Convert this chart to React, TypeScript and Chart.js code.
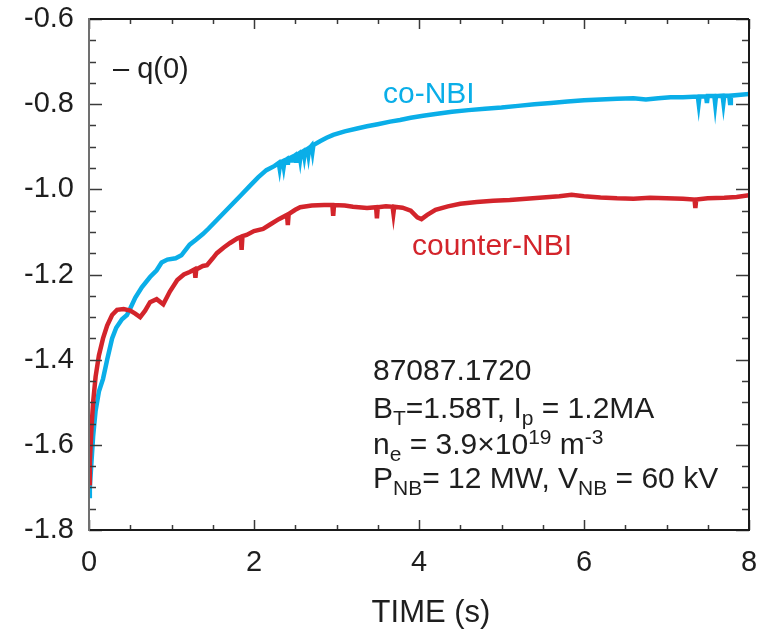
import React, { useEffect, useRef } from "react";
import { Chart, registerables } from "chart.js";

Chart.register(...registerables);

// ---- data ----
const CO_T = [
  0.0, 0.01, 0.03, 0.05, 0.08, 0.12, 0.17, 0.22, 0.28, 0.33, 0.4, 0.46, 0.5, 0.56, 0.64, 0.74, 0.82, 0.88, 0.95,
  1.05, 1.12, 1.22, 1.3, 1.38, 1.45, 1.55, 1.65, 1.75, 1.85, 1.95, 2.05, 2.15, 2.25, 2.3, 2.31, 2.32, 2.35, 2.36,
  2.37, 2.4, 2.41, 2.42, 2.45, 2.46, 2.47, 2.5, 2.51, 2.52, 2.55, 2.56, 2.57, 2.6, 2.61, 2.62, 2.65, 2.66, 2.67,
  2.7, 2.71, 2.72, 2.8, 2.88, 2.96, 3.1, 3.25, 3.37, 3.5, 3.65, 3.77, 3.9, 4.05, 4.2, 4.4, 4.6, 4.8, 5.0, 5.2,
  5.4, 5.6, 5.8, 6.0, 6.2, 6.4, 6.6, 6.75, 6.9, 7.05, 7.2, 7.38, 7.39, 7.4, 7.48, 7.49, 7.5, 7.58, 7.59, 7.6,
  7.68, 7.69, 7.7, 7.76, 7.77, 7.78, 7.9, 8.0,
];
const CO_Q = [
  -1.72, -1.7, -1.64, -1.58, -1.52, -1.475, -1.445, -1.4, -1.35, -1.325, -1.305, -1.295, -1.28, -1.255, -1.23,
  -1.206, -1.19, -1.172, -1.165, -1.162, -1.155, -1.13, -1.118, -1.105, -1.092, -1.072, -1.052, -1.032, -1.012,
  -0.992, -0.972, -0.955, -0.945, -0.938, -0.95, -0.937, -0.934, -0.946, -0.933, -0.929, -0.942, -0.928, -0.925,
  -0.937, -0.924, -0.92, -0.933, -0.919, -0.915, -0.928, -0.914, -0.91, -0.922, -0.909, -0.905, -0.918, -0.904,
  -0.897, -0.91, -0.896, -0.887, -0.879, -0.872, -0.864, -0.857, -0.852, -0.847, -0.841, -0.837, -0.832, -0.827,
  -0.823, -0.818, -0.814, -0.811, -0.808, -0.804, -0.8, -0.797, -0.794, -0.791, -0.789, -0.787, -0.786, -0.789,
  -0.786, -0.784, -0.784, -0.782, -0.798, -0.782, -0.782, -0.797, -0.781, -0.781, -0.799, -0.781, -0.78, -0.796,
  -0.78, -0.78, -0.797, -0.78, -0.778, -0.776,
];

const CTR_T = [
  0.0, 0.01, 0.03, 0.05, 0.08, 0.12, 0.17, 0.22, 0.28, 0.34, 0.42, 0.5, 0.56, 0.62, 0.68, 0.74, 0.82, 0.9, 0.98,
  1.07, 1.15, 1.22, 1.28, 1.29, 1.3, 1.38, 1.43, 1.5, 1.55, 1.63, 1.71, 1.8, 1.84, 1.85, 1.86, 1.91, 2.0, 2.11,
  2.2, 2.3, 2.4, 2.41, 2.42, 2.5, 2.56, 2.7, 2.85, 2.95, 2.96, 2.97, 3.1, 3.2, 3.37, 3.48, 3.49, 3.5, 3.6, 3.68,
  3.69, 3.7, 3.8, 3.9, 3.98, 4.03, 4.1, 4.2, 4.35, 4.5, 4.7, 4.9, 5.1, 5.3, 5.5, 5.7, 5.85, 6.0, 6.2, 6.4, 6.6,
  6.8, 7.0, 7.2, 7.34, 7.35, 7.36, 7.5, 7.7, 7.85, 8.0,
];
const CTR_Q = [
  -1.69, -1.64, -1.56, -1.5, -1.44, -1.39, -1.35, -1.32, -1.295, -1.283, -1.281, -1.285, -1.292, -1.3, -1.285,
  -1.265, -1.258, -1.27, -1.24, -1.213, -1.2, -1.194, -1.188, -1.208, -1.188, -1.18, -1.178, -1.162, -1.15, -1.137,
  -1.126, -1.115, -1.112, -1.142, -1.11, -1.107, -1.098, -1.093, -1.082, -1.07, -1.06, -1.084, -1.058, -1.048,
  -1.042, -1.038, -1.037, -1.037, -1.062, -1.037, -1.038, -1.041, -1.044, -1.042, -1.068, -1.042, -1.04, -1.041,
  -1.056, -1.041, -1.043, -1.05, -1.066, -1.07, -1.06, -1.048, -1.04, -1.034, -1.03, -1.027, -1.025, -1.022,
  -1.019, -1.016, -1.013, -1.016, -1.019, -1.021, -1.022, -1.02, -1.021, -1.022, -1.024, -1.044, -1.024, -1.021,
  -1.02, -1.018, -1.014,
];

const X_TICKS = [0, 2, 4, 6, 8];
const Y_TICKS = [-1.8, -1.6, -1.4, -1.2, -1.0, -0.8, -0.6];
const X_MINOR_STEP = 0.5;
const Y_MINOR_STEP = 0.05;

const X_TITLE = "TIME (s)";
const Y_LABEL = "\u2013 q(0)";
const CO_LABEL = "co-NBI";
const CTR_LABEL = "counter-NBI";

type Seg = { t: string; k?: "sub" | "sup" };
const INFO_LINES: Seg[][] = [
  [{ t: "87087.1720" }],
  [{ t: "B" }, { t: "T", k: "sub" }, { t: "=1.58T, I" }, { t: "p", k: "sub" }, { t: " = 1.2MA" }],
  [{ t: "n" }, { t: "e", k: "sub" }, { t: " = 3.9\u00d710" }, { t: "19", k: "sup" }, { t: " m" }, { t: "-3", k: "sup" }],
  [{ t: "P" }, { t: "NB", k: "sub" }, { t: "= 12 MW, V" }, { t: "NB", k: "sub" }, { t: " = 60 kV" }],
];

const BLUE = "#0aaee8";
const RED = "#d3242b";
const INK = "#1e1e1e";
const FONT = '"Liberation Sans", Arial, Helvetica, sans-serif';

function drawRich(ctx: CanvasRenderingContext2D, x: number, y: number, segs: Seg[], size: number) {
  let cx = x;
  for (const s of segs) {
    const fs = s.k ? Math.round(size * 0.7) : size;
    ctx.font = `${fs}px ${FONT}`;
    const dy = s.k === "sub" ? 7 : s.k === "sup" ? -10 : 0;
    ctx.fillText(s.t, cx, y + dy);
    cx += ctx.measureText(s.t).width;
  }
}

const framePlugin = {
  id: "frameTicks",
  afterDatasetsDraw(chart: any) {
    const { ctx, chartArea: a, scales } = chart;
    const x = scales.x;
    const y = scales.y;
    ctx.save();
    ctx.strokeStyle = "#3a3a3a";
    ctx.lineWidth = 1.5;
    const seg = (x1: number, y1: number, x2: number, y2: number) => {
      ctx.beginPath();
      ctx.moveTo(x1, y1);
      ctx.lineTo(x2, y2);
      ctx.stroke();
    };
    const x0 = X_TICKS[0];
    const x1 = X_TICKS[X_TICKS.length - 1];
    const nx = Math.round((x1 - x0) / X_MINOR_STEP);
    for (let i = 0; i <= nx; i++) {
      const v = x0 + i * X_MINOR_STEP;
      const major = X_TICKS.some((t) => Math.abs(t - v) < 1e-6);
      const len = major ? 10 : 5;
      const px = Math.round(x.getPixelForValue(v)) + 0.5;
      seg(px, a.bottom, px, a.bottom - len);
      seg(px, a.top, px, a.top + len);
    }
    const y0 = Y_TICKS[0];
    const y1 = Y_TICKS[Y_TICKS.length - 1];
    const ny = Math.round((y1 - y0) / Y_MINOR_STEP);
    for (let i = 0; i <= ny; i++) {
      const v = y0 + i * Y_MINOR_STEP;
      const major = Y_TICKS.some((t) => Math.abs(t - v) < 1e-6);
      const len = major ? 13 : 7;
      const py = Math.round(y.getPixelForValue(v)) + 0.5;
      seg(a.left, py, a.left + len, py);
      seg(a.right, py, a.right - len, py);
    }
    // frame
    ctx.lineWidth = 2;
    ctx.strokeStyle = "#1a1a1a";
    seg(a.left, a.top, a.right, a.top);
    seg(a.right, a.top, a.right, a.bottom + 1);
    seg(a.left - 1, a.bottom, a.right + 1, a.bottom);
    ctx.strokeStyle = "#707070";
    seg(a.left, a.top - 1, a.left, a.bottom + 1);
    ctx.restore();
  },
  afterDraw(chart: any) {
    const { ctx, chartArea: a } = chart;
    ctx.save();
    ctx.textBaseline = "alphabetic";
    ctx.textAlign = "left";
    // axis title
    ctx.fillStyle = INK;
    ctx.font = `31px ${FONT}`;
    ctx.textAlign = "center";
    ctx.fillText(X_TITLE, 431, 622);
    ctx.textAlign = "left";
    // y label inside plot
    ctx.font = `29px ${FONT}`;
    ctx.fillText(Y_LABEL, a.left + 24, 78);
    // series labels
    ctx.font = `30px ${FONT}`;
    ctx.fillStyle = BLUE;
    ctx.fillText(CO_LABEL, 383, 103);
    ctx.fillStyle = RED;
    ctx.fillText(CTR_LABEL, 412, 255);
    // info block
    ctx.fillStyle = INK;
    const baselines = [380, 418, 454, 488];
    INFO_LINES.forEach((line, i) => drawRich(ctx, 373, baselines[i], line, 30));
    ctx.restore();
  },
};

export default function App() {
  const ref = useRef<HTMLCanvasElement | null>(null);
  useEffect(() => {
    if (!ref.current) return;
    const chart = new Chart(ref.current, {
      type: "line",
      data: {
        datasets: [
          {
            label: CTR_LABEL,
            data: CTR_T.map((t, i) => ({ x: t, y: CTR_Q[i] })),
            borderColor: RED,
            borderWidth: 4.5,
            pointRadius: 0,
            tension: 0,
            fill: false,
          },
          {
            label: CO_LABEL,
            data: CO_T.map((t, i) => ({ x: t, y: CO_Q[i] })),
            borderColor: BLUE,
            borderWidth: 4.5,
            pointRadius: 0,
            tension: 0,
            fill: false,
          },
        ],
      },
      options: {
        responsive: false,
        animation: false,
        layout: { padding: { top: 19, right: 17, left: 0, bottom: 0 } },
        plugins: { legend: { display: false }, tooltip: { enabled: false } },
        scales: {
          x: {
            type: "linear",
            min: X_TICKS[0],
            max: X_TICKS[X_TICKS.length - 1],
            afterBuildTicks: (s: any) => {
              s.ticks = X_TICKS.map((v) => ({ value: v }));
            },
            afterFit: (s: any) => {
              s.height = 99;
              s.paddingLeft = 0;
              s.paddingRight = 0;
            },
            grid: { display: false, drawTicks: false },
            border: { display: false },
            ticks: {
              padding: 16,
              color: INK,
              font: { size: 29, family: FONT },
              callback: (v: any) => String(v),
            },
          },
          y: {
            type: "linear",
            min: Y_TICKS[0],
            max: Y_TICKS[Y_TICKS.length - 1],
            afterBuildTicks: (s: any) => {
              s.ticks = Y_TICKS.map((v) => ({ value: v }));
            },
            afterFit: (s: any) => {
              s.width = 89;
              s.paddingTop = 0;
              s.paddingBottom = 0;
            },
            grid: { display: false, drawTicks: false },
            border: { display: false },
            ticks: {
              padding: 15,
              color: INK,
              font: { size: 29, family: FONT },
              callback: (v: any) => Number(v).toFixed(1),
            },
          },
        },
      },
      plugins: [framePlugin],
    } as any);
    return () => chart.destroy();
  }, []);
  return (
    <div style={{ position: "fixed", left: 0, top: 0, width: 766, height: 629, background: "#fff" }}>
      <canvas ref={ref} width={766} height={629} style={{ display: "block", width: 766, height: 629 }} />
    </div>
  );
}
